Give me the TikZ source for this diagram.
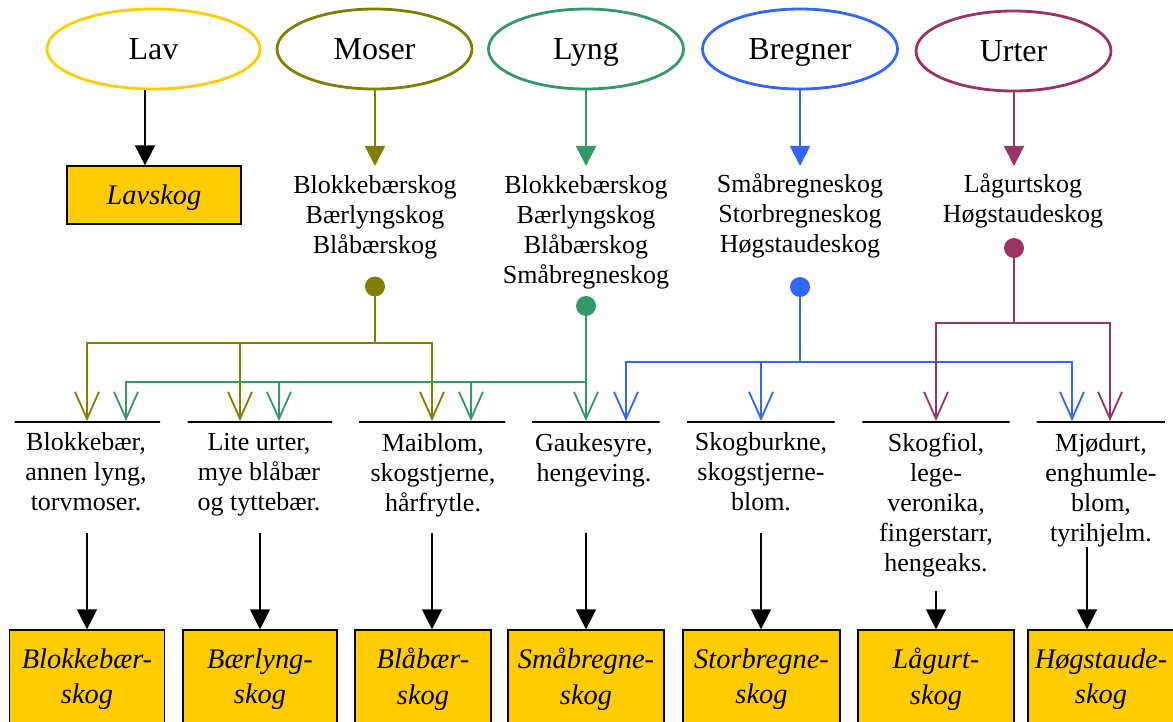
\documentclass[tikz,border=0pt]{standalone}
\usepackage{fontspec}
\setmainfont{Liberation Serif}
\usetikzlibrary{arrows.meta,shapes.geometric,calc}
\definecolor{cLav}{HTML}{FFCC00}
\definecolor{cMos}{HTML}{808000}
\definecolor{cLyn}{HTML}{339966}
\definecolor{cBre}{HTML}{3366FF}
\definecolor{cUrt}{HTML}{993366}
\definecolor{cBox}{HTML}{FFCC00}
\begin{document}
\begin{tikzpicture}[x=0.5pt,y=-0.5pt,
  grp/.style={ellipse, draw=#1, line width=1.4pt, minimum width=97.5pt, minimum height=40pt, inner sep=0pt, font=\fontsize{16}{19}\selectfont, text height=10.6pt, text depth=0pt},
  lst/.style={align=center, inner sep=0pt, font=\fontsize{13}{15}\selectfont},
  forest/.style={draw=black, line width=0.6pt, fill=cBox, inner sep=0pt, align=center, font=\fontsize{14.2}{17.8}\selectfont\itshape},
  rulebar/.style={draw=black, line width=1pt, inner sep=0pt, minimum height=0pt},
  dot/.style={circle, fill=#1, inner sep=0pt, minimum size=10pt},
  down/.style={draw=#1, line width=0.9pt, -{Triangle[width=10pt,length=10pt]}},
  branch/.style={draw=#1, line width=0.9pt, -{Straight Barb[width=12pt,length=13.5pt]}},
  blk/.style={draw=black, line width=0.7pt, -{Triangle[width=10pt,length=10pt]}},
]
\path[use as bounding box] (0,0) rectangle (1173,722);
\clip (0,0) rectangle (1173,722);

% group ellipses
\node[grp=cLav, minimum width=106.5pt] (lav) at (153.5,49) {Lav};
\node[grp=cMos] (moser) at (374.5,49) {Moser};
\node[grp=cLyn] (lyng) at (586,49) {Lyng};
\node[grp=cBre] (bregner) at (800,49) {Bregner};
\node[grp=cUrt] (urter) at (1013.5,51) {Urter};

% Lavskog
\node[forest, minimum width=87pt, minimum height=29pt, text height=9.4pt, text depth=0pt] (lavskog) at (154,195) {Lavskog};

% lists
\node[lst] (moserT) at (375,217) {Blokkebærskog\\Bærlyngskog\\Blåbærskog};
\node[lst] (lyngT) at (586,232) {Blokkebærskog\\Bærlyngskog\\Blåbærskog\\Småbregneskog};
\node[lst] (bregT) at (800,216) {Småbregneskog\\Storbregneskog\\Høgstaudeskog};
\node[lst] (urtT) at (1023,201) {Lågurtskog\\Høgstaudeskog};

% arrows from ellipses
\draw[down=black] (lav.south -| 145,0) -- (145,0 |- lavskog.north);
\draw[down=cMos] (moser.south -| 375,0) -- (375,166);
\draw[down=cLyn] (lyng.south -| 586,0) -- (586,166);
\draw[down=cBre] (bregner.south) -- (bregner.south |- 0,166);
\draw[down=cUrt] (urter.south -| 1014,0) -- (1014,166);

% dots
\node[dot=cMos] (moserD) at (375,286.5) {};
\node[dot=cLyn] (lyngD) at (586,306) {};
\node[dot=cBre] (bregD) at (800,287) {};
\node[dot=cUrt] (urtD) at (1014,248) {};

% rules
\node[rulebar, minimum width=72.75pt] (r1) at (87.25,422) {};
\node[rulebar, minimum width=72.25pt] (r2) at (259.75,422) {};
\node[rulebar, minimum width=73pt] (r3) at (432,422) {};
\node[rulebar, minimum width=63.8pt] (r4) at (595.8,422) {};
\node[rulebar, minimum width=73.75pt] (r5) at (760.75,422) {};
\node[rulebar, minimum width=73.7pt] (r6) at (936,422) {};
\node[rulebar, minimum width=64.1pt] (r7) at (1100.7,422) {};

% branches: Moser
\draw[branch=cMos] (moserD.center) -- (moserD |- 0,343) -| (r1.north -| 87,0);
\draw[branch=cMos] (moserD.center) -- (moserD |- 0,343) -| (r2.north -| 240,0);
\draw[branch=cMos] (moserD.center) -- (moserD |- 0,343) -| (r3.north -| 432,0);
% Lyng
\draw[branch=cLyn] (lyngD.center) -- (lyngD |- 0,382) -| (r1.north -| 126,0);
\draw[branch=cLyn] (lyngD.center) -- (lyngD |- 0,382) -| (r2.north -| 279,0);
\draw[branch=cLyn] (lyngD.center) -- (lyngD |- 0,382) -| (r3.north -| 471,0);
\draw[branch=cLyn] (lyngD.center) -- (lyngD |- r4.north);
% Bregner
\draw[branch=cBre] (bregD.center) -- (bregD |- 0,362) -| (r4.north -| 626,0);
\draw[branch=cBre] (bregD.center) -- (bregD |- 0,362) -| (r5.north -| 761,0);
\draw[branch=cBre] (bregD.center) -- (bregD |- 0,362) -| (r7.north -| 1072,0);
% Urter
\draw[branch=cUrt] (urtD.center) -- (urtD |- 0,323) -| (r6.north -| 936,0);
\draw[branch=cUrt] (urtD.center) -- (urtD |- 0,323) -| (r7.north -| 1110,0);

% descriptions
\node[lst] (d1) at (86,472) {Blokkebær,\\annen lyng,\\torvmoser.};
\node[lst] (d2) at (259,475) {Lite urter,\\mye blåbær\\og tyttebær.};
\node[lst] (d3) at (433,475) {Maiblom,\\skogstjerne,\\hårfrytle.};
\node[lst] (d4) at (594,460) {Gaukesyre,\\hengeving.};
\node[lst] (d5) at (761,472) {Skogburkne,\\skogstjerne-\\blom.};
\node[lst] (d6) at (936,505) {Skogfiol,\\lege-\\veronika,\\fingerstarr,\\hengeaks.};
\node[lst] (d7) at (1101,490) {Mjødurt,\\enghumle-\\blom,\\tyrihjelm.};

% forest type boxes
\node[forest, minimum width=77.5pt, minimum height=49pt] (b1) at (87,679) {Blokkebær-\\skog};
\node[forest, minimum width=77pt, minimum height=49pt] (b2) at (260,679) {Bærlyng-\\skog};
\node[forest, minimum width=68pt, minimum height=49pt] (b3) at (423,679) {Blåbær-\\skog};
\node[forest, minimum width=78pt, minimum height=49pt] (b4) at (586,679) {Småbregne-\\skog};
\node[forest, minimum width=78.5pt, minimum height=49pt] (b5) at (761.5,679) {Storbregne-\\skog};
\node[forest, minimum width=78pt, minimum height=49pt] (b6) at (936,679) {Lågurt-\\skog};
\node[forest, minimum width=73pt, minimum height=49pt] (b7) at (1101,679) {Høgstaude-\\skog};

% arrows to boxes
\coordinate (s1) at (87,533);
\coordinate (s2) at (260,533);
\coordinate (s3) at (432,533);
\coordinate (s4) at (586,533);
\coordinate (s5) at (761,533);
\coordinate (s6) at (936,591);
\coordinate (s7) at (1087,547);
\draw[blk] (s1) -- (s1 |- b1.north);
\draw[blk] (s2) -- (s2 |- b2.north);
\draw[blk] (s3) -- (s3 |- b3.north);
\draw[blk] (s4) -- (s4 |- b4.north);
\draw[blk] (s5) -- (s5 |- b5.north);
\draw[blk] (s6) -- (s6 |- b6.north);
\draw[blk] (s7) -- (s7 |- b7.north);
\end{tikzpicture}
\end{document}
